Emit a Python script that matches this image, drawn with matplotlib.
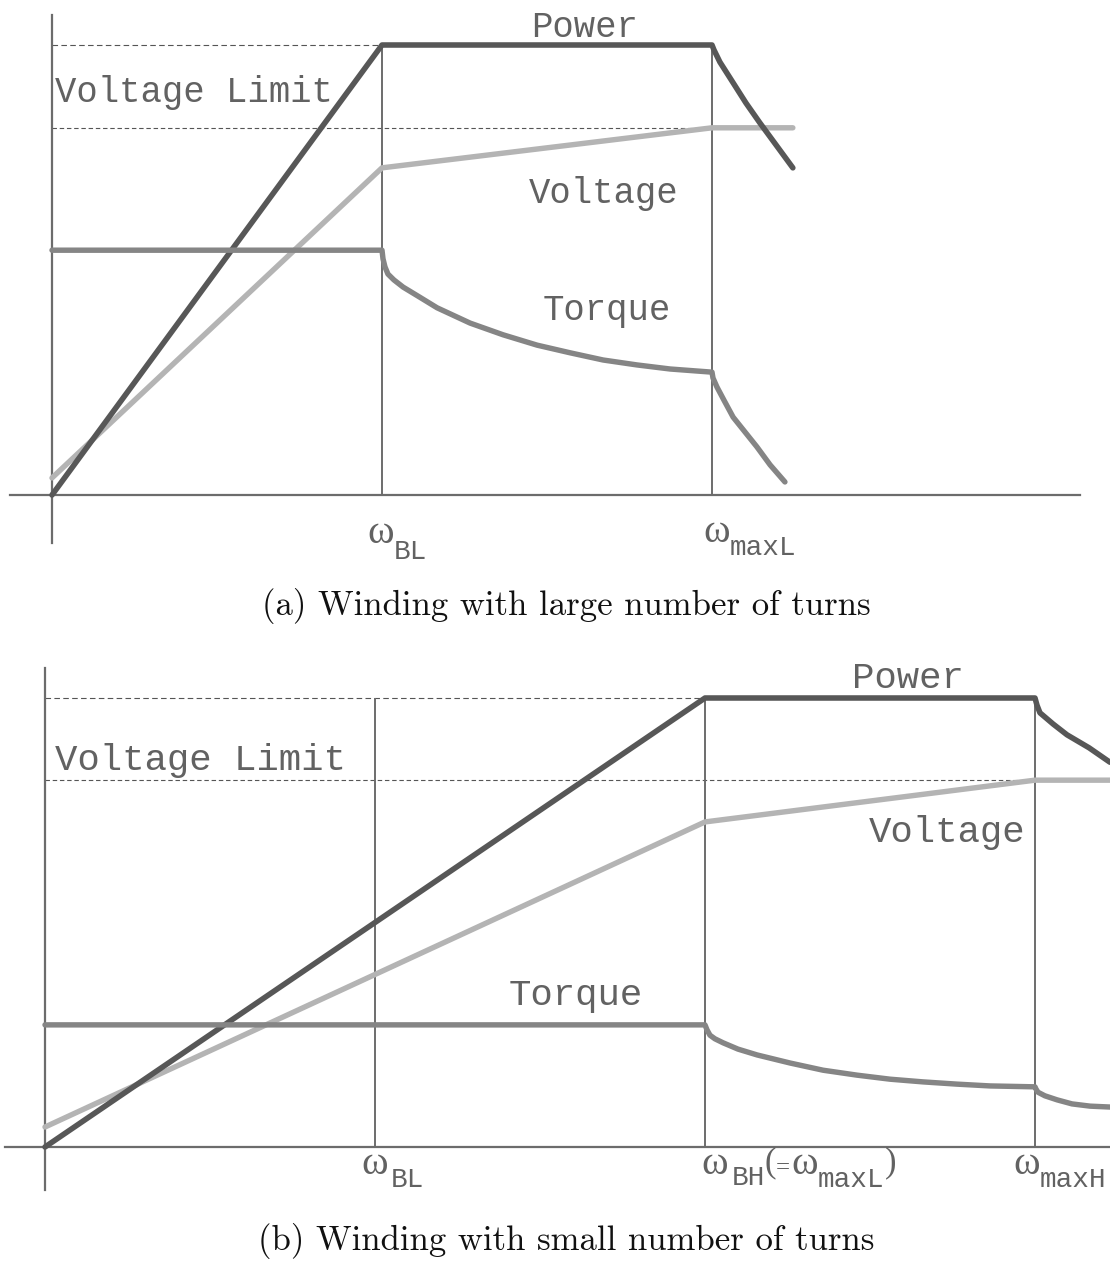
import matplotlib
matplotlib.use("Agg")
import matplotlib.pyplot as plt

# speeds are in units of omega_BL, curves in units of rated power / voltage limit
# (a) winding with large number of turns
a_ticks = [1.0, 2.0]
a_power_w = [0, 1.0, 2.0, 2.006, 2.024, 2.064, 2.103, 2.145, 2.194, 2.245]
a_power = [0, 1.0, 1.0, 0.989, 0.962, 0.916, 0.871, 0.827, 0.778, 0.727]
a_volt_w = [0, 1.0, 2.0, 2.245]
a_volt = [0.038, 0.727, 0.816, 0.816]
a_torque_w = [0, 1.0, 1.003, 1.009, 1.018, 1.036, 1.064, 1.109, 1.167, 1.267, 1.367,
              1.470, 1.570, 1.670, 1.773, 1.873, 2.0, 2.003, 2.015, 2.036, 2.064,
              2.100, 2.136, 2.176, 2.221]
a_torque = [0.544, 0.544, 0.525, 0.507, 0.491, 0.478, 0.462, 0.442, 0.416, 0.382, 0.356,
            0.333, 0.316, 0.300, 0.289, 0.280, 0.273, 0.260, 0.240, 0.211, 0.173,
            0.140, 0.107, 0.067, 0.029]
a_vlimit = 0.816

# (b) winding with small number of turns
b_ticks = [1.0, 2.0, 3.0]
b_power_w = [0, 2.0, 3.0, 3.006, 3.015, 3.055, 3.097, 3.164, 3.227]
b_power = [0, 1.0, 1.0, 0.984, 0.967, 0.942, 0.918, 0.889, 0.857]
b_volt_w = [0, 2.0, 3.0, 3.3]
b_volt = [0.0445, 0.724, 0.817, 0.817]
b_torque_w = [0, 2.0, 2.006, 2.015, 2.030, 2.055, 2.100, 2.158, 2.258, 2.358, 2.461,
              2.561, 2.661, 2.764, 2.864, 3.0, 3.003, 3.009, 3.030, 3.067, 3.112,
              3.167, 3.227]
b_torque = [0.272, 0.272, 0.261, 0.249, 0.241, 0.232, 0.218, 0.205, 0.187, 0.171, 0.160,
            0.151, 0.145, 0.140, 0.136, 0.134, 0.129, 0.122, 0.114, 0.105, 0.096,
            0.091, 0.089]
b_vlimit = 0.817

rated = 1.0

c_power = '#575757'
c_volt = '#b4b4b4'
c_torque = '#858585'
c_axis = '#6c6c6c'
c_text = '#626262'
mono = 'Liberation Mono'
serif = 'Liberation Serif'

W, H = 1110, 1263
fig = plt.figure(figsize=(W / 100, H / 100), dpi=100)


def draw_panel(ax, pw, p, vw, v, tw, t, vlimit, ticks, wbase, wmax):
    ax.axis('off')
    ax.plot(vw, v, color=c_volt, lw=3.9, solid_capstyle='round', zorder=3)
    ax.plot(pw, p, color=c_power, lw=4.0, solid_capstyle='round',
            solid_joinstyle='round', zorder=4)
    ax.plot(tw, t, color=c_torque, lw=3.9, solid_capstyle='round',
            solid_joinstyle='round', zorder=5)
    ax.vlines(ticks, 0, rated, color=c_axis, lw=1.4, zorder=2)
    ax.hlines(rated, 0, wbase, color='#555555', lw=0.8, linestyles=(0, (5, 3)), zorder=1)
    ax.hlines(vlimit, 0, wmax, color='#555555', lw=0.8, linestyles=(0, (4, 2.5)), zorder=1)


def put(ax, x, s, dx, dy, family, size):
    ax.annotate(s, (x, 0), xytext=(dx, dy), textcoords='offset pixels',
                family=family, fontsize=size, color=c_text, ha='left', va='baseline')


def omega(ax, x, dx, dy, sub, sdx, sdy):
    put(ax, x, 'ω', dx, dy, serif, 29)
    put(ax, x, sub, sdx, sdy, mono, 20)


# panel (a)
ax_a = fig.add_axes([0, 1 - 560 / H, 1, 560 / H])
ax_a.set_xlim(-52 / 330, 1058 / 330)
ax_a.set_ylim(-65 / 450, 495 / 450)
draw_panel(ax_a, a_power_w, a_power, a_volt_w, a_volt, a_torque_w, a_torque,
           a_vlimit, a_ticks, a_ticks[0], a_ticks[1])
ax_a.axhline(0, 10 / 1110, 1080 / 1110, color=c_axis, lw=1.6)
ax_a.axvline(0, 17 / 560, 545 / 560, color=c_axis, lw=1.6)

fs = 25.7
ax_a.text(1.615, 1.018, 'Power', family=mono, fontsize=fs, color=c_text, ha='center', va='baseline')
ax_a.text(0.009, 0.873, 'Voltage Limit', family=mono, fontsize=fs, color=c_text, ha='left', va='baseline')
ax_a.text(1.673, 0.649, 'Voltage', family=mono, fontsize=fs, color=c_text, ha='center', va='baseline')
ax_a.text(1.682, 0.389, 'Torque', family=mono, fontsize=fs, color=c_text, ha='center', va='baseline')

omega(ax_a, a_ticks[0], -15, -48, 'BL', 12, -64)
omega(ax_a, a_ticks[1], -9, -47, 'maxL', 18, -60)

# panel (b)
ax_b = fig.add_axes([0, (H - 1210) / H, 1, 570 / H])
ax_b.set_xlim(-45 / 330, 1065 / 330)
ax_b.set_ylim(-63 / 449, 507 / 449)
draw_panel(ax_b, b_power_w, b_power, b_volt_w, b_volt, b_torque_w, b_torque,
           b_vlimit, b_ticks, b_ticks[1], b_ticks[2])
ax_b.axhline(0, 5 / 1110, 1, color=c_axis, lw=1.6)
ax_b.axvline(0, 20 / 570, 542 / 570, color=c_axis, lw=1.6)

fs = 26.9
ax_b.text(2.615, 1.022, 'Power', family=mono, fontsize=fs, color=c_text, ha='center', va='baseline')
ax_b.text(0.03, 0.840, 'Voltage Limit', family=mono, fontsize=fs, color=c_text, ha='left', va='baseline')
ax_b.text(2.733, 0.679, 'Voltage', family=mono, fontsize=fs, color=c_text, ha='center', va='baseline')
ax_b.text(1.609, 0.316, 'Torque', family=mono, fontsize=fs, color=c_text, ha='center', va='baseline')

omega(ax_b, b_ticks[0], -14, -27, 'BL', 16, -40)
omega(ax_b, b_ticks[1], -4, -27, 'BH', 27, -38)
put(ax_b, b_ticks[1], '(', 59, -24, serif, 25)
put(ax_b, b_ticks[1], '=', 71, -27, serif, 18)
omega(ax_b, b_ticks[1], 86, -27, 'maxL', 113, -40)
put(ax_b, b_ticks[1], ')', 180, -24, serif, 25)
omega(ax_b, b_ticks[2], -22, -27, 'maxH', 5, -40)

fig.text(566 / W, 1 - 615 / H, '(a) Winding with large number of turns',
         family='cmr10', fontsize=25, color='#111111', ha='center', va='baseline')
fig.text(566 / W, 1 - 1250 / H, '(b) Winding with small number of turns',
         family='cmr10', fontsize=25, color='#111111', ha='center', va='baseline')

fig.savefig('out.png', dpi=100)
